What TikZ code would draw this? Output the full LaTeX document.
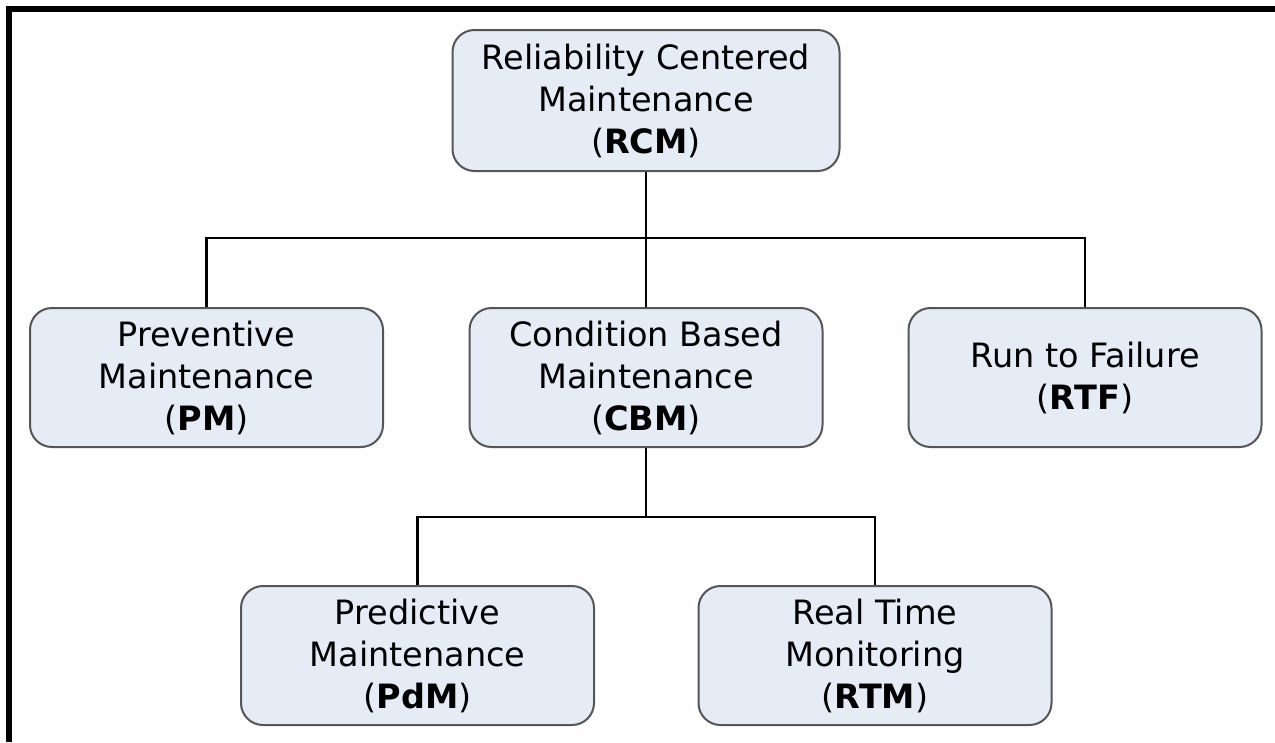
\documentclass[tikz,border=0pt]{standalone}
\usepackage{fontspec}
\setmainfont{DejaVu Sans}
\usetikzlibrary{positioning}
\definecolor{boxfill}{RGB}{230,236,246}
\definecolor{boxline}{RGB}{85,85,85}
\tikzset{
  mbox/.style={draw=boxline, line width=2pt, fill=boxfill, rounded corners=22pt,
    minimum width=353pt, minimum height=139pt, inner sep=0pt, align=center,
    font=\fontsize{33.5}{42}\selectfont},
  link/.style={line width=2.5pt, black},
  frame/.style={line width=6pt, black},
}
\begin{document}
\begin{tikzpicture}[x=1pt,y=-1pt]
%
\useasboundingbox (0,0) rectangle (1275,742);
%
\draw[frame] (8.5,742) -- (8.5,9) -- (1275,9);
%
\node[mbox, minimum width=387pt, minimum height=141pt] (rcm) at (646,100.5)
  {Reliability Centered\\Maintenance\\(\textbf{RCM})};
\node[mbox] (pm)  at (206.5,377.5) {Preventive\\Maintenance\\(\textbf{PM})};
\node[mbox] (cbm) at (646,377.5)   {Condition Based\\Maintenance\\(\textbf{CBM})};
\node[mbox] (rtf) at (1085,377.5)  {Run to Failure\\(\textbf{RTF})};
\node[mbox] (pdm) at (417.5,655.5) {Predictive\\Maintenance\\(\textbf{PdM})};
\node[mbox] (rtm) at (875,655.5)   {Real Time\\Monitoring\\(\textbf{RTM})};
%
\coordinate (bus1) at (rcm.south |- 0,238);
\coordinate (bus2) at (cbm.south |- 0,517);
%
\draw[link] (rcm.south) -- (bus1);
\draw[link] (pm.north) |- (bus1) -| (rtf.north);
\draw[link] (bus1) -- (cbm.north);
\draw[link] (cbm.south) -- (bus2);
\draw[link] (pdm.north) |- (bus2) -| (rtm.north);
%
\end{tikzpicture}
\end{document}
